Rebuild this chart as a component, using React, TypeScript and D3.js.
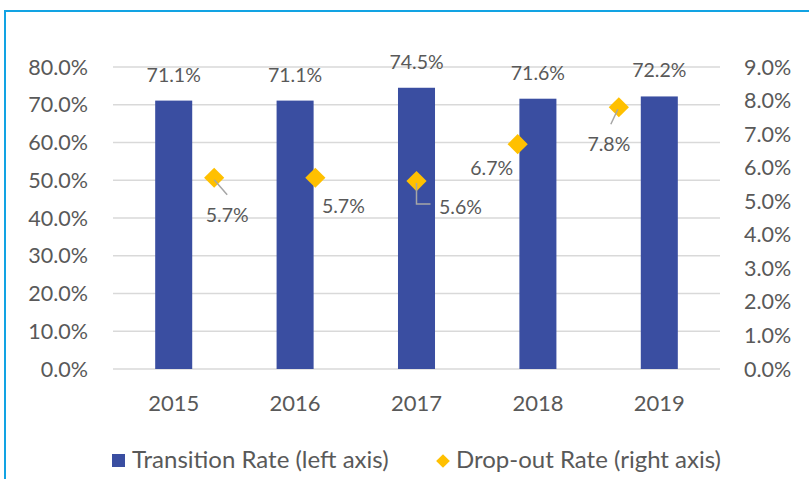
import React from "react";
import * as d3 from "d3";

const years = ["2015", "2016", "2017", "2018", "2019"];
const transitionRate = [71.1, 71.1, 74.5, 71.6, 72.2];
const dropoutRate = [5.7, 5.7, 5.6, 6.7, 7.8];
const leftTicks = [0, 10, 20, 30, 40, 50, 60, 70, 80];
const rightTicks = [0, 1, 2, 3, 4, 5, 6, 7, 8, 9];
const legendLabels = ["Transition Rate (left axis)", "Drop-out Rate (right axis)"];

// label placement relative to the diamond (layout, not data)
const dropLabelOffsets = [
  { dx: 13, dy: 44, leader: [[0, 2], [13, 17]] },
  { dx: 28, dy: 35, leader: null },
  { dx: 44, dy: 33, leader: [[0, 2], [0, 23], [14, 23]] },
  { dx: -26, dy: 31, leader: null },
  { dx: -10, dy: 44, leader: [[-1, 2], [-8, 17]] },
];

const W = 809;
const H = 479;
const plot = { left: 113, right: 720, top: 67, bottom: 369 };
const BAR = "#3a4ea1";
const GOLD = "#ffc000";
const TEXT = "#595959";
const FONT = "Lato, 'Liberation Sans', Arial, sans-serif";
const FS_AXIS = 21.5;
const FS_LABEL = 19.5;
const FS_LEGEND = 24;

export default function App() {
  React.useEffect(() => {
    document.body.style.margin = "0";
  }, []);

  const x = d3
    .scaleBand<string>()
    .domain(years)
    .range([plot.left, plot.right])
    .paddingInner(0.695)
    .paddingOuter(0.3475);
  const xs = d3.scaleLinear().domain([0, 6]).range([plot.left, plot.right]);
  const yL = d3.scaleLinear().domain([0, 80]).range([plot.bottom, plot.top]);
  const yR = d3.scaleLinear().domain([0, 9]).range([plot.bottom, plot.top]);
  const line = d3.line();
  const diamond = d3.symbol(d3.symbolDiamond2, 260)();
  const diamondSmall = d3.symbol(d3.symbolDiamond2, 120)();

  return (
    <svg width={W} height={H} style={{ display: "block" }} fontFamily={FONT}>
      <rect x={0} y={0} width={W} height={H} fill="#fff" />
      <path d={`M5,${H} L5,11 L${W},11`} fill="none" stroke="#12a3e3" strokeWidth={2} />
      {leftTicks.map((t) => (
        <line key={t} x1={plot.left} x2={plot.right} y1={yL(t)} y2={yL(t)} stroke="#d9d9d9" strokeWidth={1.3} />
      ))}
      {leftTicks.map((t) => (
        <text key={t} x={88} y={yL(t) + 7.5} textAnchor="end" fontSize={FS_AXIS} fill={TEXT}>
          {t.toFixed(1)}%
        </text>
      ))}
      {rightTicks.map((t) => (
        <text key={t} x={744} y={yR(t) + 7.5} textAnchor="start" fontSize={FS_AXIS} fill={TEXT}>
          {t.toFixed(1)}%
        </text>
      ))}
      {years.map((yr, i) => (
        <g key={yr}>
          <rect
            x={x(yr)}
            y={yL(transitionRate[i])}
            width={x.bandwidth()}
            height={yL(0) - yL(transitionRate[i])}
            fill={BAR}
          />
          <text
            x={x(yr)! + x.bandwidth() / 2}
            y={yL(transitionRate[i]) - 19}
            textAnchor="middle"
            fontSize={FS_LABEL}
            fill={TEXT}
          >
            {transitionRate[i].toFixed(1)}%
          </text>
          <text
            x={x(yr)! + x.bandwidth() / 2}
            y={411}
            textAnchor="middle"
            fontSize={FS_AXIS + 0.5}
            fill={TEXT}
          >
            {yr}
          </text>
        </g>
      ))}
      {dropoutRate.map((v, i) => {
        const cx = xs(i + 1);
        const cy = yR(v);
        const o = dropLabelOffsets[i];
        return (
          <g key={i}>
            <path d={diamond!} transform={`translate(${cx},${cy})`} fill={GOLD} />
            {o.leader && (
              <path
                d={line(o.leader.map(([a, b]) => [cx + a, cy + b]) as [number, number][])!}
                fill="none"
                stroke="#a6a6a6"
                strokeWidth={1.5}
              />
            )}
            <text x={cx + o.dx} y={cy + o.dy} textAnchor="middle" fontSize={FS_LABEL} fill={TEXT}>
              {v.toFixed(1)}%
            </text>
          </g>
        );
      })}
      <rect x={112} y={454} width={13} height={13} fill={BAR} />
      <text x={132} y={468} fontSize={FS_LEGEND} fill={TEXT}>
        {legendLabels[0]}
      </text>
      <path d={diamondSmall!} transform={`translate(443,461)`} fill={GOLD} />
      <text x={456} y={468} fontSize={FS_LEGEND} fill={TEXT}>
        {legendLabels[1]}
      </text>
    </svg>
  );
}
